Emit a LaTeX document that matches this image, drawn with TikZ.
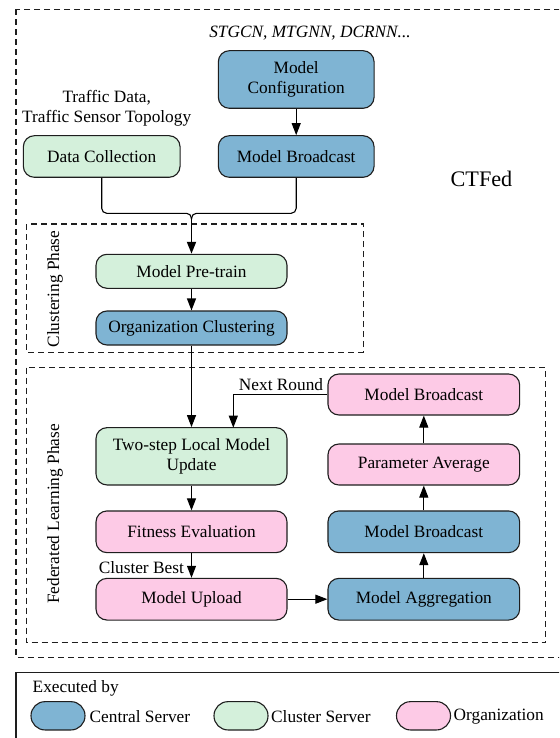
\documentclass[tikz,border=0pt]{standalone}
\usepackage{fontspec}
\setmainfont{Liberation Serif}
\usetikzlibrary{arrows.meta}
\definecolor{cblue}{RGB}{127,180,211}
\definecolor{cgreen}{RGB}{212,240,219}
\definecolor{cpink}{RGB}{253,202,230}
\definecolor{cline}{RGB}{30,30,30}
\begin{document}
\begin{tikzpicture}[x=1pt,y=-1pt,
  font=\fontsize{17.3}{20}\selectfont,
  box/.style={draw=cline, line width=1.1pt, rounded corners=11pt, minimum width=191pt, minimum height=41.5pt, inner sep=0pt, align=center},
  bluebox/.style={box, fill=cblue},
  greenbox/.style={box, fill=cgreen},
  pinkbox/.style={box, fill=cpink},
  capsule/.style={draw=cline, line width=1.1pt, rounded corners=14pt, minimum width=54pt, minimum height=28.3pt, inner sep=0pt},
  arr/.style={-{Triangle[length=12pt,width=9pt]}, line width=1.1pt, draw=black},
  plain/.style={inner sep=0pt, align=center},
  phasebox/.style={draw=cline, line width=1.1pt, dash pattern=on 6pt off 4pt}
]
\clip (0,0) rectangle (559,738);
\fill[white] (0,0) rectangle (559,738);

% dashed frames
\draw[phasebox] (16,9.3) rectangle (570,657.3);
\draw[phasebox] (26.7,224) rectangle (363.3,352.3);
\draw[phasebox] (26.7,367.7) rectangle (545.7,642.7);
\draw[draw=cline, line width=1.1pt] (16,672.7) rectangle (570,760);

% top part
\node[plain, font=\fontsize{17.3}{20}\selectfont\itshape] (models) at (310,33) {STGCN, MTGNN, DCRNN...};
\node[bluebox, minimum width=155.7pt, minimum height=57.6pt] (mc) at (296.2,79.5) {Model\\Configuration};
\node[bluebox, minimum width=155.7pt, minimum height=41.6pt] (mb1) at (296.2,156.5) {Model Broadcast};
\node[greenbox, minimum width=156.7pt, minimum height=41.6pt] (dc) at (101.7,156.5) {Data Collection};
\node[plain] (tdata) at (106.7,108) {Traffic Data,\\Traffic Sensor Topology};
\node[plain, font=\fontsize{22.2}{26}\selectfont] (ctfed) at (481.5,179.3) {CTFed};

% clustering phase
\node[plain, rotate=90] (clp) at (55,289) {Clustering Phase};
\node[greenbox, minimum height=34pt] (pt) at (191.5,271.3) {Model Pre-train};
\node[bluebox, minimum height=34pt] (oc) at (191.5,328) {Organization Clustering};

% federated learning phase
\node[plain, rotate=90] (flp) at (55,514) {Federated Learning Phase};
\node[greenbox, minimum height=57.3pt] (tw) at (191.5,456.3) {Two-step Local Model\\Update};
\node[pinkbox, minimum height=41.7pt] (fe) at (191.5,531.8) {Fitness Evaluation};
\node[pinkbox, minimum height=41.7pt] (mu) at (191.5,599.2) {Model Upload};
\node[pinkbox, minimum width=191.7pt, minimum height=41pt] (mbp) at (423.8,394.5) {Model Broadcast};
\node[pinkbox, minimum width=191.7pt, minimum height=41pt] (pa) at (423.8,464.5) {Parameter Average};
\node[bluebox, minimum width=191.7pt, minimum height=41.7pt] (mbb) at (423.8,531.8) {Model Broadcast};
\node[bluebox, minimum width=191.7pt, minimum height=41.7pt] (ma) at (423.8,599.2) {Model Aggregation};
\node[plain] (nr) at (281,384.3) {Next Round};
\node[plain] (cb) at (141.3,567.7) {Cluster Best};

% connectors
\draw[arr] (mc) -- (mb1);
\coordinate (jh) at (191.5,213.3);
\coordinate (j) at (191.5,219);
\draw[line width=1.1pt, rounded corners=5pt] (dc.south) |- (jh) -- (j);
\draw[line width=1.1pt, rounded corners=5pt] (mb1.south) |- (jh) -- (j);
\draw[arr, line width=1.8pt] (j) -- (pt.north);
\draw[arr] (pt) -- (oc);
\draw[arr] (oc) -- (tw);
\draw[arr] (tw) -- (fe);
\draw[arr] (fe) -- (mu);
\draw[arr] (mu) -- (ma);
\draw[arr] (ma) -- (mbb);
\draw[arr] (mbb) -- (pa);
\draw[arr] (pa) -- (mbp);
\coordinate (nrin) at (233.3,427.7);
\draw[arr] (mbp.west) -| (nrin);

% legend
\node[plain, anchor=west] (exby) at (32.5,688.3) {Executed by};
\node[capsule, fill=cblue] (lgb) at (58,715.8) {};
\node[plain, anchor=west] (lgbt) at (89.5,716.5) {Central Server};
\node[capsule, fill=cgreen] (lgg) at (241,715.8) {};
\node[plain, anchor=west] (lggt) at (271,716.5) {Cluster Server};
\node[capsule, fill=cpink] (lgp) at (423.5,715.8) {};
\node[plain, anchor=west] (lgpt) at (453.5,716.5) {Organization};
\end{tikzpicture}
\end{document}
